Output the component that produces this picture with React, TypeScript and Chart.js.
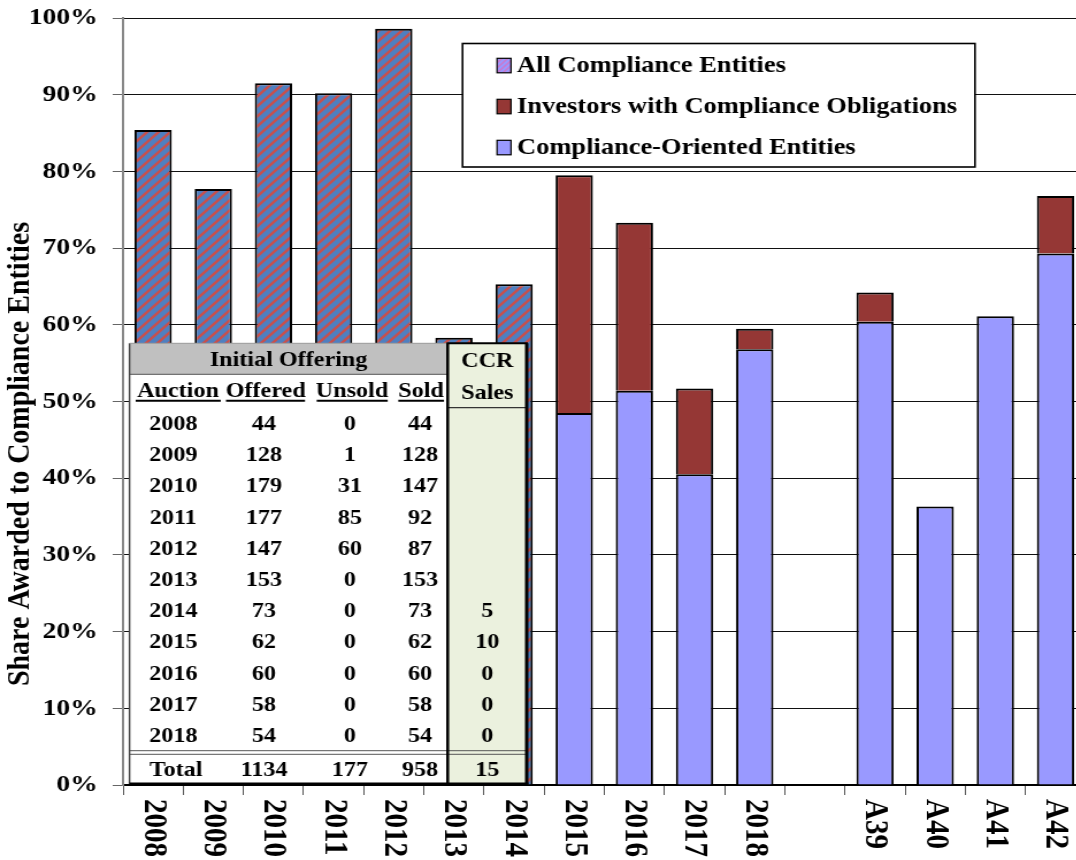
import React, { useEffect, useRef } from 'react';
import { Chart, registerables } from 'chart.js';

Chart.register(...registerables);

// ---------------- data ----------------
const categories = ['2008', '2009', '2010', '2011', '2012', '2013', '2014', '2015', '2016', '2017', '2018', '', 'A39', 'A40', 'A41', 'A42'];

const allComplianceEntities = [85.4, 77.7, 91.5, 90.2, 98.6, 58.3, 65.3, null, null, null, null, null, null, null, null, null];
const complianceOrientedEntities = [null, null, null, null, null, null, null, 48.5, 51.4, 40.5, 56.8, null, 60.4, 36.3, 61.1, 69.3];
const investorsWithObligations = [null, null, null, null, null, null, null, 31.0, 21.9, 11.2, 2.7, null, 3.8, null, null, 7.5];

const legendLabels = ['All Compliance Entities', 'Investors with Compliance Obligations', 'Compliance-Oriented Entities'];
const yAxisTitle = 'Share Awarded to Compliance Entities';
const Y_MIN = 0;
const Y_MAX = 100;
const Y_STEP = 10;

const tableGroupTitle = 'Initial Offering';
const tableHeaders = ['Auction', 'Offered', 'Unsold', 'Sold'];
const ccrHeader = ['CCR', 'Sales'];
const tableAuctions = ['2008', '2009', '2010', '2011', '2012', '2013', '2014', '2015', '2016', '2017', '2018'];
const tableOffered = [44, 128, 179, 177, 147, 153, 73, 62, 60, 58, 54];
const tableUnsold = [0, 1, 31, 85, 60, 0, 0, 0, 0, 0, 0];
const tableSold = [44, 128, 147, 92, 87, 153, 73, 62, 60, 58, 54];
const tableCcr = ['', '', '', '', '', '', '5', '10', '0', '0', '0'];
const tableTotals = ['Total', '1134', '177', '958', '15'];

// ---------------- styling ----------------
const SX = 1.15; // horizontal stretch of the whole picture
const ix = (v: number) => v / SX;
const FONT = '"Liberation Serif", "Times New Roman", serif';
const HATCH_BASE = '#4F7FC0';
const HATCH_STRIPE = '#C8504D';
const RED = '#953735';
const LIGHT_BLUE = '#9999FF';

function makeHatch(base: string, stripe: string, size: number, lw: number) {
  const c = document.createElement('canvas');
  c.width = size;
  c.height = size;
  const g = c.getContext('2d')!;
  g.fillStyle = base;
  g.fillRect(0, 0, size, size);
  g.strokeStyle = stripe;
  g.lineWidth = lw;
  g.lineCap = 'square';
  g.beginPath();
  g.moveTo(0, size);
  g.lineTo(size, 0);
  g.moveTo(-2, 2);
  g.lineTo(2, -2);
  g.moveTo(size - 2, size + 2);
  g.lineTo(size + 2, size - 2);
  g.stroke();
  return g.createPattern(c, 'repeat')!;
}

function line(ctx: CanvasRenderingContext2D, x1: number, y1: number, x2: number, y2: number, color: string, w: number) {
  ctx.beginPath();
  ctx.strokeStyle = color;
  ctx.lineWidth = w;
  ctx.moveTo(x1, y1);
  ctx.lineTo(x2, y2);
  ctx.stroke();
}

const overlayPlugin = {
  id: 'overlay',
  afterDraw(chart: any) {
    const ctx: CanvasRenderingContext2D = chart.ctx;
    const xs = chart.scales.x;
    ctx.save();

    // ---------- table ----------
    const L = ix(129.5), D = ix(447.7), R = ix(526.7);
    const T = 343.3, G = 374.3, B = 784;
    ctx.fillStyle = '#ffffff';
    ctx.fillRect(L, T, D - L, B - T);
    ctx.fillStyle = '#EBF1DE';
    ctx.fillRect(D, T, R - D, B - T);
    ctx.fillStyle = '#C0C0C0';
    ctx.fillRect(L, T, D - L, G - T);
    line(ctx, L, G, D, G, '#555', 1);
    line(ctx, D, 407.7, R, 407.7, '#333', 1.2);
    line(ctx, L, 750.7, R, 750.7, '#555', 1);
    line(ctx, L, 754.3, R, 754.3, '#555', 1);
    line(ctx, L, T, L, B, '#444', 1.5);
    line(ctx, L, T, D, T, '#999', 1);
    line(ctx, D - 1, T, R + 1, T, '#000', 2);
    line(ctx, D, T, D, B, '#000', 2.5);
    line(ctx, R, T, R, B, '#000', 3);
    line(ctx, L, B, R + 1.5, B, '#000', 3);

    ctx.fillStyle = '#000';
    ctx.textBaseline = 'alphabetic';
    ctx.textAlign = 'center';
    ctx.font = `bold 21px ${FONT}`;
    ctx.fillText(tableGroupTitle, (L + D) / 2, 366);
    const colX = [ix(173.3), ix(264), ix(350), ix(420)];
    const headX = [ix(178), ix(265.7), ix(352), ix(421)];
    const ccrX = ix(487.3);
    const underlines = [[ix(135.7), ix(220.7)], [ix(226), ix(305)], [ix(316.7), ix(387.7)], [ix(398.3), ix(444)]];
    tableHeaders.forEach((h, i) => {
      ctx.fillText(h, headX[i], 396.7);
      line(ctx, underlines[i][0], 400.8, underlines[i][1], 400.8, '#000', 2);
    });
    ctx.fillText(ccrHeader[0], ccrX, 367);
    ctx.fillText(ccrHeader[1], ccrX, 399);
    tableAuctions.forEach((a, i) => {
      const y = 430 + i * 31.2;
      ctx.fillText(a, colX[0], y);
      ctx.fillText(String(tableOffered[i]), colX[1], y);
      ctx.fillText(String(tableUnsold[i]), colX[2], y);
      ctx.fillText(String(tableSold[i]), colX[3], y);
      if (tableCcr[i] !== '') ctx.fillText(tableCcr[i], ccrX, y);
    });
    ctx.fillText(tableTotals[0], ix(176), 775.7);
    ctx.fillText(tableTotals[1], colX[1], 775.7);
    ctx.fillText(tableTotals[2], colX[2], 775.7);
    ctx.fillText(tableTotals[3], colX[3], 775.7);
    ctx.fillText(tableTotals[4], ccrX, 775.7);

    // ---------- legend ----------
    const lL = ix(462.5), lR = ix(975), lT = 43.5, lB = 167;
    ctx.fillStyle = '#fff';
    ctx.fillRect(lL, lT, lR - lL, lB - lT);
    ctx.strokeStyle = '#000';
    ctx.lineWidth = 1.6;
    ctx.strokeRect(lL, lT, lR - lL, lB - lT);
    const swX = ix(497), swW = ix(511) - ix(497), swH = 14.5;
    const legendFills = [chart.$legendHatch, RED, LIGHT_BLUE];
    ctx.font = `bold 23px ${FONT}`;
    ctx.textAlign = 'left';
    legendLabels.forEach((lab, i) => {
      const base = 72.3 + i * 41;
      const top = base - 14;
      ctx.fillStyle = legendFills[i];
      ctx.fillRect(swX, top, swW, swH);
      ctx.strokeStyle = '#000';
      ctx.lineWidth = 1.2;
      ctx.strokeRect(swX, top, swW, swH);
      ctx.fillStyle = '#000';
      ctx.fillText(lab, ix(517), base);
    });

    // ---------- x labels (rotated clockwise) ----------
    ctx.font = `bold 29px ${FONT}`;
    ctx.fillStyle = '#000';
    categories.forEach((c, i) => {
      if (!c) return;
      const x = xs.getPixelForValue(i);
      ctx.save();
      ctx.translate(x, 799);
      ctx.rotate(Math.PI / 2);
      ctx.textAlign = 'left';
      ctx.textBaseline = 'middle';
      ctx.fillText(c, 0, 0);
      ctx.restore();
    });

    // ---------- y title ----------
    ctx.save();
    ctx.translate(ix(21), 454);
    ctx.rotate(-Math.PI / 2);
    ctx.font = `bold 28px ${FONT}`;
    ctx.textAlign = 'center';
    ctx.textBaseline = 'middle';
    ctx.fillText(yAxisTitle, 0, 0);
    ctx.restore();

    ctx.restore();
  },
};

export default function App() {
  const ref = useRef<HTMLCanvasElement | null>(null);

  useEffect(() => {
    if (!ref.current) return;
    const hatch = makeHatch(HATCH_BASE, HATCH_STRIPE, 10, 2.4);
    const legendHatch = makeHatch('#9999FF', '#CC77CC', 5, 1.5);
    const chart: any = new Chart(ref.current, {
      type: 'bar',
      data: {
        labels: categories,
        datasets: [
          { label: legendLabels[0], data: allComplianceEntities as any, backgroundColor: hatch, borderColor: '#000', borderWidth: 2 },
          { label: legendLabels[2], data: complianceOrientedEntities as any, backgroundColor: LIGHT_BLUE, borderColor: '#000', borderWidth: 2 },
          { label: legendLabels[1], data: investorsWithObligations as any, backgroundColor: RED, borderColor: '#000', borderWidth: 2 },
        ],
      },
      options: {
        responsive: false,
        animation: false,
        devicePixelRatio: 1,
        layout: { padding: { top: 18, left: 0, right: 0, bottom: 0 } },
        datasets: { bar: { barPercentage: 0.62, categoryPercentage: 1 } },
        plugins: { legend: { display: false }, tooltip: { enabled: false }, title: { display: false } },
        scales: {
          x: {
            stacked: true,
            grid: { offset: true, drawOnChartArea: false, drawTicks: true, tickLength: 10, color: '#555', lineWidth: 1 },
            border: { color: '#000', width: 2 },
            ticks: { display: false },
            afterFit: (s: any) => { s.height = 75; s.paddingLeft = 0; s.paddingRight = 0; },
          },
          y: {
            stacked: true,
            min: Y_MIN,
            max: Y_MAX,
            ticks: {
              stepSize: Y_STEP,
              color: '#000',
              padding: 13,
              font: { family: FONT, size: 24, weight: 'bold' },
              callback: (v: any) => `${v}%`,
            },
            grid: { color: '#111', lineWidth: 1, tickLength: 9, tickColor: '#666' },
            border: { color: '#888', width: 2 },
            afterFit: (s: any) => { s.width = 107; s.paddingTop = 0; s.paddingBottom = 0; },
          },
        },
      },
      plugins: [overlayPlugin],
    });
    chart.$legendHatch = legendHatch;
    chart.draw();
    return () => chart.destroy();
  }, []);

  return (
    <div style={{ position: 'fixed', left: 0, top: 0, width: 1076, height: 860, overflow: 'hidden', background: '#fff' }}>
      <div style={{ transform: `scaleX(${SX})`, transformOrigin: '0 0', width: 944, height: 860 }}>
        <canvas ref={ref} width={944} height={860} style={{ display: 'block' }} />
      </div>
    </div>
  );
}
